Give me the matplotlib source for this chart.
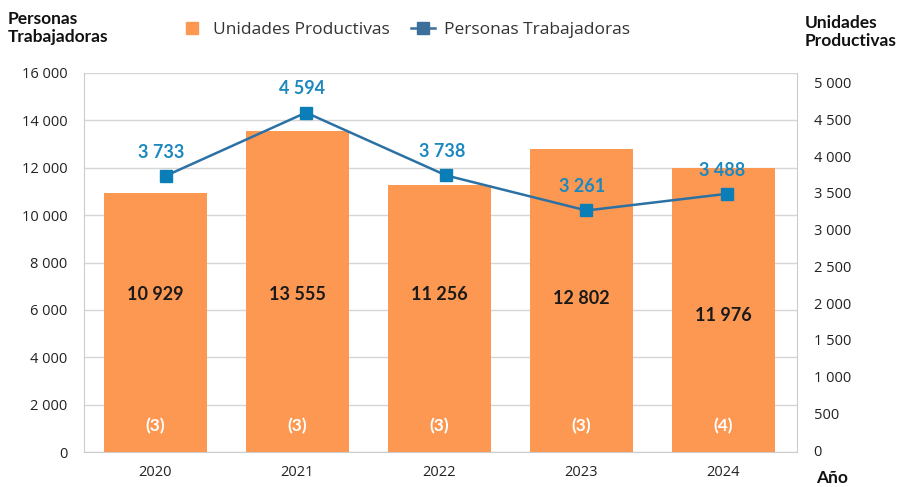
import numpy as np
import matplotlib.pyplot as plt
from matplotlib.lines import Line2D

plt.rcParams['font.family'] = ['Open Sans', 'DejaVu Sans']
negrita = ['Lato', 'DejaVu Sans']

############### Data
anios = ['2020', '2021', '2022', '2023', '2024']
barras = [10929, 13555, 11256, 12802, 11976]
linea = [3733, 4594, 3738, 3261, 3488]
notas = ['(3)', '(3)', '(3)', '(3)', '(4)']

naranja = '#FD9853'
azul_linea = '#2C71A3'
azul_marca = '#0B7DB7'
azul_texto = '#1B88BE'
gris = '#D6D6D6'

def miles(v):
    return f'{v:,.0f}'.replace(',', ' ')

############### Figure
fig = plt.figure(figsize=(9.02, 4.87), dpi=100)
pos = [84/902, 1 - 452/487, (797-84)/902, (452-73)/487]
ax = fig.add_axes(pos)

x = np.arange(len(anios))
ax.bar(x, barras, width=0.725, color=naranja, zorder=2)
ax.set_xlim(-0.5, 4.52)
ax.set_ylim(0, 16000)
ax.set_yticks(np.arange(0, 16001, 2000))
ax.set_yticklabels([miles(v) for v in range(0, 16001, 2000)])
ax.set_xticks(x)
ax.set_xticklabels(anios)
ax.grid(axis='y', color=gris, lw=1, zorder=0)
ax.tick_params(length=0, labelsize=10.5, colors='#222222')
ax.tick_params(axis='x', pad=9)
ax.tick_params(axis='y', pad=12)
for s in ['left', 'bottom']:
    ax.spines[s].set_color('#CCCCCC')
ax.spines['top'].set_visible(False)
ax.spines['right'].set_visible(False)

# value labels inside the bars
y_val = [6650, 6650, 6650, 6500, 5750]
for i, v in enumerate(barras):
    ax.text(i, y_val[i], miles(v), ha='center', va='center', family=negrita,
            fontsize=13, fontweight='bold', color='#1A1A1A', zorder=3)
    ax.text(i, 1110, notas[i], ha='center', va='center', family=negrita,
            fontsize=12.5, fontweight='bold', color='white', zorder=3)

############### Line on its own axes
ax2 = fig.add_axes(pos, facecolor='none')
ax2.plot(x, linea, color=azul_linea, lw=1.8, marker='s', ms=8,
         mfc=azul_marca, mec=azul_marca, zorder=4)
ax2.set_xlim(-0.583, 4.501)
ax2.set_ylim(-27, 5133)
ax2.set_xticks([])
ax2.yaxis.tick_right()
ax2.set_yticks(np.arange(0, 5001, 500))
ax2.set_yticklabels([miles(v) for v in range(0, 5001, 500)])
ax2.tick_params(length=0, labelsize=10.5, colors='#222222', pad=12)
for s in ['left', 'top', 'bottom']:
    ax2.spines[s].set_visible(False)
ax2.spines['right'].set_color('#CCCCCC')
for i, v in enumerate(linea):
    ax2.annotate(miles(v), (i, v), xytext=(-3, 11), textcoords='offset points',
                 ha='center', va='bottom', family=negrita, fontsize=13,
                 fontweight='bold', color=azul_texto)

############### Titles and legend
fig.text(8/902, 1 - 28/487, 'Personas\nTrabajadoras', ha='left', va='center',
         family=negrita, fontsize=12.5, fontweight='bold', color='#111111',
         linespacing=1.2)
fig.text(805/902, 1 - 32/487, 'Unidades\nProductivas', ha='left', va='center',
         family=negrita, fontsize=12.5, fontweight='bold', color='#111111',
         linespacing=1.2)
fig.text(832/902, 1 - 478/487, 'Año', ha='center', va='center',
         family=negrita, fontsize=12.5, fontweight='bold', color='#111111')

handles = [Line2D([], [], ls='none', marker='s', ms=8, mfc=naranja,
                  mec=naranja, label='Unidades Productivas'),
           Line2D([], [], color='#3C6F9B', lw=1.8, marker='s', ms=8,
                  mfc='#3C6F9B', mec='#3C6F9B', label='Personas Trabajadoras')]
fig.legend(handles=handles, loc='center', bbox_to_anchor=(405/902, 1 - 30/487),
           ncol=2, frameon=False, fontsize=12.5, handlelength=1.4,
           columnspacing=1.2, handletextpad=0.5, labelcolor='#333333')

plt.savefig('out.png', dpi=100)
